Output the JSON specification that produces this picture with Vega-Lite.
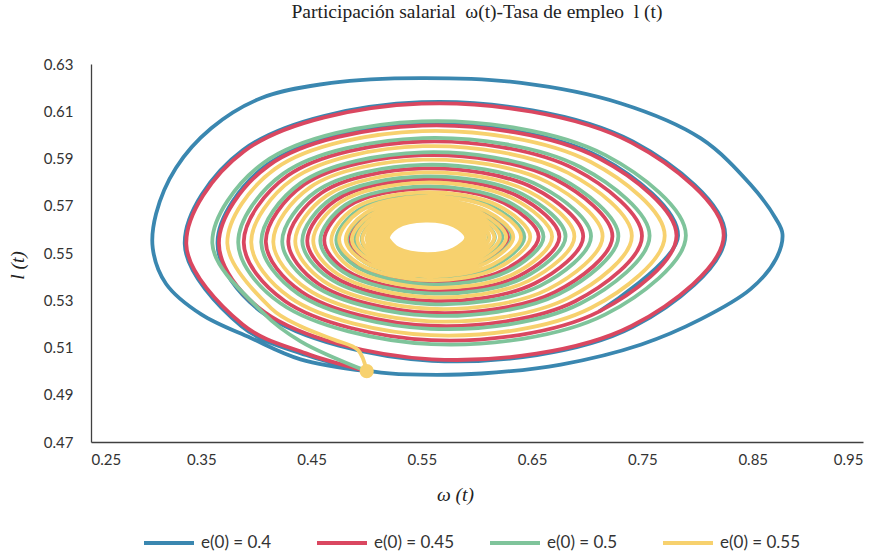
{
"$schema": "https://vega.github.io/schema/vega-lite/v6.json",
"width": 772, "height": 378,
"autosize": {"type": "none"},
"padding": {"left": 91, "top": 64, "right": 20, "bottom": 116},
"background": "white",
"title": {"text": "Participación salarial \u00a0ω(t)-Tasa de empleo \u00a0l (t)", "font": "Liberation Serif", "fontSize": 19.5, "fontWeight": "normal", "color": "#222222", "offset": 35, "anchor": "middle"},
"config": {
  "view": {"stroke": null},
  "axis": {"domainColor": "#404040", "domainWidth": 1.3, "ticks": false, "grid": false, "labelFont": "Lato", "labelFontSize": 15, "labelColor": "#333333", "titleFont": "Liberation Serif", "titleFontStyle": "italic", "titleFontWeight": "normal", "titleFontSize": 19.5, "titleColor": "#222222"}
},
"datasets": {
"blue": [
{"x":0.500,"y":0.5000},{"x":0.440,"y":0.5050},{"x":0.395,"y":0.5140},{"x":0.350,"y":0.5240},{"x":0.318,"y":0.5370},{"x":0.306,"y":0.5520},{"x":0.309,"y":0.5666},{"x":0.327,"y":0.5860},{"x":0.359,"y":0.6028},{"x":0.404,"y":0.6155},{"x":0.468,"y":0.6220},{"x":0.549,"y":0.6240},{"x":0.640,"y":0.6220},{"x":0.730,"y":0.6134},{"x":0.803,"y":0.5985},{"x":0.848,"y":0.5790},{"x":0.871,"y":0.5645},{"x":0.877,"y":0.5580},{"x":0.871,"y":0.5474},{"x":0.848,"y":0.5347},{"x":0.803,"y":0.5220},{"x":0.749,"y":0.5113},{"x":0.676,"y":0.5028},{"x":0.604,"y":0.4990},{"x":0.549,"y":0.4985},{"x":0.513,"y":0.4994},{"x":0.490,"y":0.5012},{"x":0.445,"y":0.5068},{"x":0.3865,"y":0.5190},
{"x":0.3350,"y":0.5538},{"x":0.3875,"y":0.5935},{"x":0.5497,"y":0.6138},{"x":0.7412,"y":0.5972},{"x":0.8251,"y":0.5575},{"x":0.7412,"y":0.5186},{"x":0.5591,"y":0.5044},{"x":0.4062,"y":0.5245},
{"x":0.3647,"y":0.5541},{"x":0.4101,"y":0.5875},{"x":0.5502,"y":0.6045},{"x":0.7117,"y":0.5906},{"x":0.7823,"y":0.5573},{"x":0.7106,"y":0.5252}
],
"red": [
{"x":0.500,"y":0.5000},{"x":0.445,"y":0.5075},{"x":0.3875,"y":0.5197},
{"x":0.3364,"y":0.5538},{"x":0.3886,"y":0.5930},{"x":0.5497,"y":0.6132},{"x":0.7401,"y":0.5967},{"x":0.8237,"y":0.5575},{"x":0.7401,"y":0.5191},{"x":0.5591,"y":0.5050},{"x":0.4072,"y":0.5250},
{"x":0.3660,"y":0.5541},{"x":0.4111,"y":0.5870},{"x":0.5502,"y":0.6039},{"x":0.7106,"y":0.5901},{"x":0.7809,"y":0.5573},{"x":0.7106,"y":0.5252},{"x":0.5584,"y":0.5131},{"x":0.4257,"y":0.5297},
{"x":0.3885,"y":0.5544},{"x":0.4282,"y":0.5827},{"x":0.5507,"y":0.5972},{"x":0.6890,"y":0.5854},{"x":0.7496,"y":0.5572},{"x":0.6890,"y":0.5296},{"x":0.5577,"y":0.5192},{"x":0.4412,"y":0.5335},
{"x":0.4085,"y":0.5547},{"x":0.4434,"y":0.5790},{"x":0.5511,"y":0.5914},{"x":0.6705,"y":0.5813},{"x":0.7228,"y":0.5571},{"x":0.6705,"y":0.5334},{"x":0.5572,"y":0.5247},{"x":0.4561,"y":0.5370},
{"x":0.4289,"y":0.5549},{"x":0.4589,"y":0.5754},{"x":0.5515,"y":0.5858},{"x":0.6522,"y":0.5773},{"x":0.6963,"y":0.5570},{"x":0.6522,"y":0.5371},{"x":0.5567,"y":0.5297},{"x":0.4697,"y":0.5401},
{"x":0.4461,"y":0.5551},{"x":0.4720,"y":0.5724},{"x":0.5518,"y":0.5812},{"x":0.6373,"y":0.5740},{"x":0.6747,"y":0.5569},{"x":0.6373,"y":0.5401},{"x":0.5563,"y":0.5339},{"x":0.4816,"y":0.5426},
{"x":0.4615,"y":0.5553},{"x":0.4837,"y":0.5699},{"x":0.5521,"y":0.5773},{"x":0.6243,"y":0.5712},{"x":0.6559,"y":0.5569},{"x":0.6243,"y":0.5427},{"x":0.5559,"y":0.5374},{"x":0.4916,"y":0.5447},
{"x":0.4740,"y":0.5554},{"x":0.4932,"y":0.5679},{"x":0.5524,"y":0.5742},{"x":0.6141,"y":0.5690},{"x":0.6410,"y":0.5568},{"x":0.6141,"y":0.5447},{"x":0.5557,"y":0.5402},{"x":0.5001,"y":0.5465},
{"x":0.4850,"y":0.5556},{"x":0.5016,"y":0.5662},{"x":0.5526,"y":0.5715},{"x":0.6052,"y":0.5671},{"x":0.6282,"y":0.5567},{"x":0.6052,"y":0.5465},{"x":0.5554,"y":0.5426}
],
"green": [
{"x":0.500,"y":0.5000},{"x":0.440,"y":0.5126},{"x":0.406,"y":0.5247},
{"x":0.3600,"y":0.5541},{"x":0.4066,"y":0.5882},{"x":0.5501,"y":0.6057},{"x":0.7164,"y":0.5914},{"x":0.7894,"y":0.5574},{"x":0.7164,"y":0.5240},{"x":0.5585,"y":0.5114},{"x":0.4218,"y":0.5287},
{"x":0.3835,"y":0.5544},{"x":0.4244,"y":0.5836},{"x":0.5506,"y":0.5986},{"x":0.6937,"y":0.5864},{"x":0.7565,"y":0.5573},{"x":0.6937,"y":0.5286},{"x":0.5579,"y":0.5179},{"x":0.4379,"y":0.5327},
{"x":0.4044,"y":0.5546},{"x":0.4403,"y":0.5797},{"x":0.5510,"y":0.5926},{"x":0.6742,"y":0.5821},{"x":0.7282,"y":0.5571},{"x":0.6742,"y":0.5326},{"x":0.5573,"y":0.5235},{"x":0.4524,"y":0.5362},
{"x":0.4234,"y":0.5548},{"x":0.4547,"y":0.5763},{"x":0.5514,"y":0.5873},{"x":0.6571,"y":0.5783},{"x":0.7034,"y":0.5571},{"x":0.6571,"y":0.5361},{"x":0.5568,"y":0.5284},{"x":0.4661,"y":0.5393},
{"x":0.4416,"y":0.5551},{"x":0.4686,"y":0.5732},{"x":0.5518,"y":0.5824},{"x":0.6412,"y":0.5749},{"x":0.6803,"y":0.5570},{"x":0.6412,"y":0.5393},{"x":0.5564,"y":0.5329},{"x":0.4787,"y":0.5420},
{"x":0.4579,"y":0.5552},{"x":0.4810,"y":0.5705},{"x":0.5521,"y":0.5782},{"x":0.6273,"y":0.5719},{"x":0.6603,"y":0.5569},{"x":0.6273,"y":0.5421},{"x":0.5560,"y":0.5367},{"x":0.4899,"y":0.5444},
{"x":0.4724,"y":0.5554},{"x":0.4920,"y":0.5681},{"x":0.5524,"y":0.5746},{"x":0.6154,"y":0.5693},{"x":0.6429,"y":0.5568},{"x":0.6154,"y":0.5445},{"x":0.5557,"y":0.5398},{"x":0.4982,"y":0.5461},
{"x":0.4820,"y":0.5555},{"x":0.4993,"y":0.5666},{"x":0.5526,"y":0.5723},{"x":0.6076,"y":0.5677},{"x":0.6317,"y":0.5568},{"x":0.6076,"y":0.5460},{"x":0.5555,"y":0.5418},{"x":0.5043,"y":0.5473},
{"x":0.4895,"y":0.5556},{"x":0.5050,"y":0.5655},{"x":0.5527,"y":0.5705},{"x":0.6017,"y":0.5664},{"x":0.6231,"y":0.5567},{"x":0.6017,"y":0.5472},{"x":0.5553,"y":0.5434},{"x":0.5092,"y":0.5483},
{"x":0.4955,"y":0.5557},{"x":0.5095,"y":0.5646},{"x":0.5528,"y":0.5691},{"x":0.5970,"y":0.5654},{"x":0.6163,"y":0.5567},{"x":0.5970,"y":0.5481},{"x":0.5552,"y":0.5447},{"x":0.5131,"y":0.5490},
{"x":0.5005,"y":0.5558},{"x":0.5133,"y":0.5638},{"x":0.5529,"y":0.5679},{"x":0.5931,"y":0.5646},{"x":0.6107,"y":0.5567},{"x":0.5931,"y":0.5489},{"x":0.5551,"y":0.5457},{"x":0.5165,"y":0.5497},
{"x":0.5048,"y":0.5558},{"x":0.5166,"y":0.5632},{"x":0.5530,"y":0.5669},{"x":0.5898,"y":0.5639},{"x":0.6059,"y":0.5566},{"x":0.5898,"y":0.5495},{"x":0.5550,"y":0.5466},{"x":0.5193,"y":0.5502},
{"x":0.5084,"y":0.5559},{"x":0.5193,"y":0.5627},{"x":0.5531,"y":0.5661},{"x":0.5870,"y":0.5633},{"x":0.6019,"y":0.5566},{"x":0.5870,"y":0.5500},{"x":0.5549,"y":0.5474},{"x":0.5217,"y":0.5507},
{"x":0.5114,"y":0.5559},{"x":0.5216,"y":0.5622},{"x":0.5531,"y":0.5654},{"x":0.5848,"y":0.5628},{"x":0.5986,"y":0.5566},{"x":0.5848,"y":0.5505},{"x":0.5549,"y":0.5480},{"x":0.5237,"y":0.5510},
{"x":0.5139,"y":0.5559},{"x":0.5235,"y":0.5619},{"x":0.5532,"y":0.5649},{"x":0.5829,"y":0.5624},{"x":0.5959,"y":0.5566},{"x":0.5829,"y":0.5509},{"x":0.5548,"y":0.5485},{"x":0.5253,"y":0.5513},
{"x":0.5159,"y":0.5559},{"x":0.5250,"y":0.5616},{"x":0.5532,"y":0.5644},{"x":0.5814,"y":0.5621},{"x":0.5937,"y":0.5566},{"x":0.5814,"y":0.5511},{"x":0.5548,"y":0.5489},{"x":0.5265,"y":0.5516},
{"x":0.5174,"y":0.5560}
],
"yellow": [
{"x":0.500,"y":0.5000},{"x":0.492,"y":0.5090},{"x":0.470,"y":0.5134},{"x":0.440,"y":0.5190},{"x":0.4134,"y":0.5266},
{"x":0.3736,"y":0.5542},{"x":0.4169,"y":0.5856},{"x":0.5504,"y":0.6016},{"x":0.7032,"y":0.5885},{"x":0.7702,"y":0.5573},{"x":0.7032,"y":0.5267},{"x":0.5581,"y":0.5152},{"x":0.4309,"y":0.5310},
{"x":0.3953,"y":0.5545},{"x":0.4334,"y":0.5814},{"x":0.5508,"y":0.5952},{"x":0.6826,"y":0.5839},{"x":0.7404,"y":0.5572},{"x":0.6826,"y":0.5309},{"x":0.5576,"y":0.5211},{"x":0.4462,"y":0.5347},
{"x":0.4153,"y":0.5547},{"x":0.4486,"y":0.5778},{"x":0.5512,"y":0.5895},{"x":0.6643,"y":0.5799},{"x":0.7139,"y":0.5571},{"x":0.6643,"y":0.5346},{"x":0.5570,"y":0.5264},{"x":0.4609,"y":0.5381},
{"x":0.4352,"y":0.5550},{"x":0.4637,"y":0.5743},{"x":0.5516,"y":0.5841},{"x":0.6467,"y":0.5761},{"x":0.6883,"y":0.5570},{"x":0.6467,"y":0.5382},{"x":0.5566,"y":0.5313},{"x":0.4739,"y":0.5410},
{"x":0.4515,"y":0.5552},{"x":0.4761,"y":0.5715},{"x":0.5520,"y":0.5798},{"x":0.6327,"y":0.5730},{"x":0.6681,"y":0.5569},{"x":0.6327,"y":0.5410},{"x":0.5562,"y":0.5353},{"x":0.4860,"y":0.5436},
{"x":0.4679,"y":0.5554},{"x":0.4886,"y":0.5689},{"x":0.5523,"y":0.5757},{"x":0.6190,"y":0.5701},{"x":0.6483,"y":0.5568},{"x":0.6190,"y":0.5437},{"x":0.5558,"y":0.5385},{"x":0.4937,"y":0.5452},
{"x":0.4750,"y":0.5555},{"x":0.4940,"y":0.5677},{"x":0.5524,"y":0.5740},{"x":0.6133,"y":0.5689},{"x":0.6399,"y":0.5568},{"x":0.6133,"y":0.5449},{"x":0.5557,"y":0.5401},{"x":0.4984,"y":0.5461},
{"x":0.4810,"y":0.5555},{"x":0.4985,"y":0.5668},{"x":0.5525,"y":0.5725},{"x":0.6084,"y":0.5678},{"x":0.6329,"y":0.5568},{"x":0.6084,"y":0.5458},{"x":0.5555,"y":0.5415},{"x":0.5026,"y":0.5470},
{"x":0.4865,"y":0.5556},{"x":0.5027,"y":0.5659},{"x":0.5527,"y":0.5712},{"x":0.6040,"y":0.5669},{"x":0.6265,"y":0.5567},{"x":0.6040,"y":0.5467},{"x":0.5554,"y":0.5427},{"x":0.5065,"y":0.5477},
{"x":0.4915,"y":0.5557},{"x":0.5065,"y":0.5652},{"x":0.5528,"y":0.5700},{"x":0.6001,"y":0.5661},{"x":0.6208,"y":0.5567},{"x":0.6001,"y":0.5475},{"x":0.5553,"y":0.5438},{"x":0.5099,"y":0.5484},
{"x":0.4960,"y":0.5557},{"x":0.5099,"y":0.5645},{"x":0.5528,"y":0.5689},{"x":0.5966,"y":0.5653},{"x":0.6157,"y":0.5567},{"x":0.5966,"y":0.5482},{"x":0.5552,"y":0.5447},{"x":0.5130,"y":0.5490},
{"x":0.5000,"y":0.5558},{"x":0.5130,"y":0.5639},{"x":0.5529,"y":0.5680},{"x":0.5935,"y":0.5647},{"x":0.6112,"y":0.5567},{"x":0.5935,"y":0.5488},{"x":0.5551,"y":0.5456},{"x":0.5157,"y":0.5495},
{"x":0.5035,"y":0.5558},{"x":0.5156,"y":0.5634},{"x":0.5530,"y":0.5672},{"x":0.5908,"y":0.5641},{"x":0.6073,"y":0.5567},{"x":0.5908,"y":0.5493},{"x":0.5550,"y":0.5463},{"x":0.5181,"y":0.5500},
{"x":0.5065,"y":0.5558},{"x":0.5179,"y":0.5629},{"x":0.5530,"y":0.5665},{"x":0.5885,"y":0.5636},{"x":0.6040,"y":0.5566},{"x":0.5885,"y":0.5498},{"x":0.5550,"y":0.5469},{"x":0.5201,"y":0.5504},
{"x":0.5092,"y":0.5559},{"x":0.5200,"y":0.5625},{"x":0.5531,"y":0.5659},{"x":0.5864,"y":0.5632},{"x":0.6010,"y":0.5566},{"x":0.5864,"y":0.5502},{"x":0.5549,"y":0.5475},{"x":0.5220,"y":0.5507},
{"x":0.5115,"y":0.5559},{"x":0.5217,"y":0.5622},{"x":0.5531,"y":0.5654},{"x":0.5847,"y":0.5628},{"x":0.5985,"y":0.5566},{"x":0.5847,"y":0.5505},{"x":0.5549,"y":0.5480},{"x":0.5235,"y":0.5510},
{"x":0.5135,"y":0.5559},{"x":0.5232,"y":0.5619},{"x":0.5532,"y":0.5650},{"x":0.5832,"y":0.5625},{"x":0.5963,"y":0.5566},{"x":0.5832,"y":0.5508},{"x":0.5548,"y":0.5484},{"x":0.5248,"y":0.5513},
{"x":0.5152,"y":0.5559},{"x":0.5245,"y":0.5617},{"x":0.5532,"y":0.5646},{"x":0.5819,"y":0.5622},{"x":0.5945,"y":0.5566},{"x":0.5819,"y":0.5510},{"x":0.5548,"y":0.5487},{"x":0.5260,"y":0.5515},
{"x":0.5166,"y":0.5560},{"x":0.5256,"y":0.5615},{"x":0.5533,"y":0.5643},{"x":0.5809,"y":0.5620},{"x":0.5929,"y":0.5566},{"x":0.5809,"y":0.5512},{"x":0.5548,"y":0.5490},{"x":0.5268,"y":0.5516},
{"x":0.5177,"y":0.5560},{"x":0.5264,"y":0.5613},{"x":0.5533,"y":0.5640},{"x":0.5800,"y":0.5618},{"x":0.5918,"y":0.5566},{"x":0.5800,"y":0.5514},{"x":0.5548,"y":0.5492},{"x":0.5275,"y":0.5518},
{"x":0.5185,"y":0.5560},{"x":0.5270,"y":0.5612},{"x":0.5533,"y":0.5639},{"x":0.5795,"y":0.5617},{"x":0.5909,"y":0.5566},{"x":0.5795,"y":0.5515},{"x":0.5547,"y":0.5494},{"x":0.5280,"y":0.5519},
{"x":0.5191,"y":0.5560},{"x":0.5275,"y":0.5611},{"x":0.5533,"y":0.5637},{"x":0.5790,"y":0.5616},{"x":0.5902,"y":0.5566},{"x":0.5790,"y":0.5516},{"x":0.5547,"y":0.5495},{"x":0.5284,"y":0.5519},
{"x":0.5195,"y":0.5560}
],
"start": [{"x":0.5,"y":0.5}]
},
"layer": [
{
 "data": {"name": "blue"},
 "mark": {"type": "line", "interpolate": "catmull-rom", "strokeWidth": 3.8},
 "encoding": {
  "x": {"field": "x", "type": "quantitative", "scale": {"domain": [0.25, 0.95], "nice": false, "zero": false}, "title": "ω (t)",
        "axis": {"values": [0.25,0.35,0.45,0.55,0.65,0.75,0.85,0.95], "format": ".2f", "labelPadding": 10, "titleX": 364, "titleY": 43}},
  "y": {"field": "y", "type": "quantitative", "scale": {"domain": [0.47, 0.63], "nice": false, "zero": false}, "title": "l (t)",
        "axis": {"values": [0.47,0.49,0.51,0.53,0.55,0.57,0.59,0.61,0.63], "format": ".2f", "labelPadding": 18, "titleX": -64, "titleY": 201}},
  "order": {"value": null},
  "color": {"datum": "e(0) = 0.4", "type": "nominal",
            "scale": {"domain": ["e(0) = 0.4", "e(0) = 0.45", "e(0) = 0.5", "e(0) = 0.55"], "range": ["#3A87B0", "#DA4760", "#7FC49B", "#F7D16E"]},
            "legend": {"orient": "none", "legendX": 51, "legendY": 452, "direction": "horizontal", "columns": 4, "title": null, "symbolType": "stroke", "symbolSize": 2500, "symbolStrokeWidth": 4, "labelFont": "Lato", "labelFontSize": 17, "labelColor": "#333333", "gridAlign": "all", "columnPadding": 27, "labelOffset": 5}}
 }
},
{
 "data": {"name": "red"},
 "mark": {"type": "line", "interpolate": "catmull-rom", "strokeWidth": 3.8},
 "encoding": {"x": {"field": "x", "type": "quantitative"}, "y": {"field": "y", "type": "quantitative"}, "order": {"value": null}, "color": {"datum": "e(0) = 0.45", "type": "nominal"}}
},
{
 "data": {"name": "green"},
 "mark": {"type": "line", "interpolate": "catmull-rom", "strokeWidth": 3.8},
 "encoding": {"x": {"field": "x", "type": "quantitative"}, "y": {"field": "y", "type": "quantitative"}, "order": {"value": null}, "color": {"datum": "e(0) = 0.5", "type": "nominal"}}
},
{
 "data": {"name": "yellow"},
 "mark": {"type": "line", "interpolate": "catmull-rom", "strokeWidth": 3.8},
 "encoding": {"x": {"field": "x", "type": "quantitative"}, "y": {"field": "y", "type": "quantitative"}, "order": {"value": null}, "color": {"datum": "e(0) = 0.55", "type": "nominal"}}
},
{
 "data": {"name": "start"},
 "mark": {"type": "circle", "size": 200, "color": "#F7D16E", "opacity": 1},
 "encoding": {"x": {"field": "x", "type": "quantitative"}, "y": {"field": "y", "type": "quantitative"}}
}
]
}
